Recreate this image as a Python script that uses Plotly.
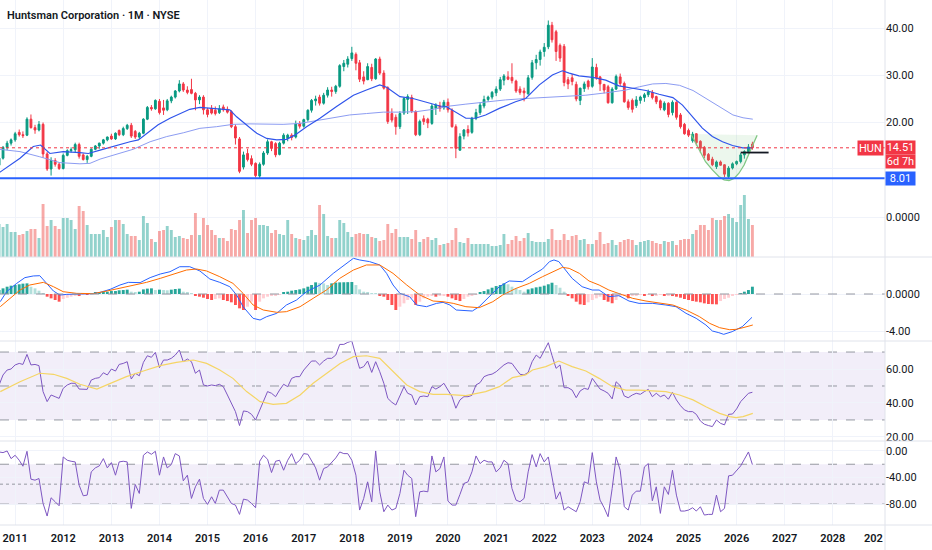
import pandas as pd
import plotly.graph_objects as go
from plotly.subplots import make_subplots

# monthly OHLC, Sep 2010 .. May 2026
opens = [10.8, 12.3, 14.6, 15.5, 16.2, 17.8, 17.3, 17.2, 20.6, 18.8, 18.3, 19.5, 13.2, 10.0, 11.8, 11.0,
         10.1, 12.9, 13.9, 14.1, 15.2, 13.0, 12.0, 12.7, 14.2, 14.9, 15.5, 16.2, 17.0, 16.4, 18.2, 17.3,
         18.6, 19.3, 18.0, 16.8, 17.6, 20.6, 23.1, 22.8, 24.4, 23.0, 22.6, 24.5, 25.3, 26.6, 28.1, 26.8,
         26.9, 26.1, 24.7, 25.3, 22.6, 22.9, 22.5, 22.0, 23.2, 22.7, 22.2, 19.0, 16.4, 10.4, 13.3, 12.2,
         11.2, 8.5, 11.0, 13.4, 15.8, 15.4, 13.1, 15.5, 16.5, 17.2, 16.8, 19.7, 19.1, 20.5, 22.5, 24.5,
         25.3, 24.0, 25.7, 26.8, 26.5, 27.6, 31.8, 32.3, 33.5, 34.4, 32.6, 29.6, 29.0, 31.6, 29.2, 33.4,
         30.4, 27.3, 21.8, 21.0, 19.0, 21.9, 24.8, 25.2, 22.2, 17.3, 20.7, 20.6, 19.7, 22.9, 23.4, 23.0,
         24.2, 22.5, 19.0, 14.0, 17.0,
         18.4, 17.8, 20.8, 22.0, 23.4, 24.8, 25.3, 26.2, 27.0, 28.9, 29.6, 29.5, 28.7, 27.0, 26.6, 26.0,
         29.5, 32.6, 33.3, 35.0, 36.0, 40.6, 39.2, 36.3, 36.1, 29.0, 29.4, 28.0, 24.6, 27.1, 28.7, 27.6,
         31.6, 29.6, 28.0, 27.5, 24.1, 27.0, 29.6, 28.2, 24.3, 24.6, 23.5, 24.6, 25.2, 25.8, 26.3, 25.4,
         24.5, 22.6, 24.0, 22.0, 24.2, 21.5, 19.5, 18.2, 16.0, 17.5, 15.9, 14.6, 13.1, 12.1, 10.5, 11.5,
         10.9, 8.4, 10.2, 11.1, 11.6, 13.0, 13.7, 15.3]
highs = [12.8, 14.9, 16.0, 16.5, 17.9, 18.4, 18.0, 21.0, 21.6, 19.4, 20.2, 19.9, 13.6, 12.5, 12.3, 11.4,
         13.3, 14.2, 14.6, 15.6, 15.6, 13.3, 13.0, 14.4, 15.1, 15.6, 16.4, 16.9, 17.5, 17.8, 18.4, 19.0,
         19.6, 19.8, 18.3, 17.9, 20.8, 23.4, 23.6, 24.8, 24.9, 24.7, 24.9, 25.6, 26.8, 28.9, 28.5, 27.6,
         29.2, 26.4, 25.7, 25.7, 23.0, 23.6, 23.3, 23.6, 23.7, 23.3, 22.5, 19.5, 16.8, 13.7, 14.3, 12.9,
         11.4, 11.4, 13.8, 16.3, 16.0, 15.7, 15.8, 17.6, 17.5, 17.6, 20.3, 20.2, 20.7, 22.7, 24.9, 25.6,
         25.8, 26.2, 27.4, 27.5, 27.9, 32.3, 33.2, 34.0, 36.0, 34.8, 33.2, 30.8, 32.5, 32.4, 33.6, 33.9,
         31.0, 27.6, 22.9, 21.6, 22.3, 25.3, 25.9, 25.8, 22.5, 20.5, 21.4, 20.9, 23.8, 24.0, 24.3, 24.7,
         25.0, 22.9, 19.5, 17.6, 18.5,
         19.3, 21.1, 22.8, 24.2, 25.6, 25.6, 26.6, 27.6, 29.6, 30.2, 30.8, 32.5, 29.0, 27.6, 27.3, 30.0,
         33.2, 34.3, 35.4, 36.8, 41.6, 41.3, 39.6, 36.7, 36.6, 29.6, 30.2, 28.6, 27.3, 28.6, 29.0, 33.6,
         32.4, 29.8, 28.1, 27.9, 27.4, 30.1, 30.3, 28.6, 24.8, 25.0, 25.5, 25.6, 26.2, 26.9, 26.8, 25.6,
         24.8, 24.4, 24.2, 24.6, 24.4, 21.9, 19.8, 18.6, 17.9, 17.6, 16.1, 14.9, 13.4, 12.6, 11.8, 11.8,
         11.0, 10.6, 11.4, 11.8, 13.4, 14.0, 15.3, 15.8]
lows = [10.3, 12.0, 14.0, 15.0, 15.8, 16.9, 16.6, 17.0, 18.6, 17.5, 18.0, 12.4, 9.6, 8.6, 10.5, 9.8,
        9.9, 12.7, 13.5, 13.6, 12.2, 11.8, 11.3, 12.5, 14.0, 14.3, 15.2, 15.9, 16.2, 16.2, 17.0, 17.0,
        18.3, 16.6, 16.4, 16.4, 17.4, 20.4, 22.4, 22.6, 21.6, 21.5, 22.3, 24.0, 25.0, 26.3, 26.4, 25.9,
        25.9, 22.5, 23.8, 21.6, 21.0, 21.6, 21.4, 21.7, 22.2, 21.8, 18.7, 15.2, 9.1, 9.9, 11.6, 10.6,
        8.2, 7.9, 10.7, 13.0, 13.8, 12.5, 12.9, 15.2, 15.9, 16.1, 16.5, 18.6, 18.8, 20.1, 22.0, 23.5,
        23.5, 23.7, 25.2, 25.4, 26.0, 27.3, 30.8, 31.6, 33.0, 31.0, 28.5, 28.0, 28.9, 28.7, 29.0, 30.0,
        26.9, 19.6, 19.9, 17.3, 18.5, 21.5, 21.7, 21.9, 17.0, 17.0, 19.4, 18.7, 19.4, 21.5, 22.2, 22.6,
        22.0, 18.8, 12.3, 13.9, 16.3,
        16.9, 17.5, 20.4, 21.5, 22.9, 24.3, 24.8, 25.5, 26.6, 27.8, 28.9, 28.2, 26.2, 25.8, 24.4, 25.8,
        29.0, 31.2, 32.0, 33.9, 35.5, 36.9, 33.0, 32.8, 27.6, 27.0, 27.8, 24.4, 23.6, 26.4, 26.9, 27.3,
        29.0, 26.6, 26.1, 23.9, 23.9, 26.8, 27.6, 24.1, 22.6, 22.0, 23.0, 23.9, 24.3, 25.3, 24.8, 23.8,
        22.5, 22.3, 21.0, 21.4, 20.5, 18.6, 17.3, 16.8, 15.6, 15.0, 13.4, 12.3, 11.7, 10.6, 10.0, 10.7,
        8.3, 8.01, 9.9, 10.8, 11.2, 12.2, 13.3, 14.1]
closes = [12.3, 14.6, 15.5, 16.2, 17.5, 17.3, 17.1, 20.6, 18.8, 18.3, 19.5, 13.2, 10.0, 11.8, 11.0, 10.1,
          12.9, 13.9, 14.1, 15.2, 12.7, 12.0, 12.7, 14.2, 14.9, 15.5, 16.2, 16.8, 16.4, 17.6, 17.3, 18.6,
          19.3, 17.0, 16.8, 17.6, 20.6, 23.1, 22.8, 24.6, 22.0, 22.5, 24.5, 25.3, 26.6, 28.1, 26.8, 26.3,
          26.1, 24.7, 25.3, 22.6, 21.6, 21.9, 21.8, 22.8, 22.6, 22.1, 19.0, 16.6, 9.5, 13.0, 12.0, 11.0,
          8.6, 11.0, 13.4, 15.8, 14.4, 13.0, 15.5, 17.2, 17.2, 16.7, 19.6, 19.1, 20.5, 22.5, 24.6, 24.9,
          24.0, 25.7, 26.8, 26.5, 27.6, 32.0, 32.5, 33.4, 34.7, 32.5, 29.1, 28.7, 31.8, 29.2, 33.4, 30.4,
          27.2, 20.1, 20.4, 19.0, 21.8, 25.0, 25.4, 22.3, 17.3, 20.1, 20.1, 19.8, 23.4, 23.6, 22.9, 24.2,
          22.6, 19.0, 14.4, 16.9, 18.3,
          17.7, 20.8, 22.0, 23.6, 24.8, 25.3, 26.3, 27.0, 29.0, 29.8, 29.1, 28.8, 26.6, 26.3, 26.2, 29.4,
          32.6, 33.3, 34.9, 35.9, 40.6, 37.5, 35.0, 33.6, 28.4, 28.1, 28.6, 24.9, 27.2, 28.1, 27.5, 31.7,
          29.4, 28.1, 26.8, 24.1, 27.0, 29.7, 28.2, 24.3, 23.1, 22.7, 24.7, 25.3, 25.8, 26.4, 25.2, 24.3,
          23.0, 24.0, 21.6, 24.2, 21.0, 19.0, 17.5, 17.2, 17.4, 15.6, 14.4, 12.9, 11.9, 10.9, 11.5, 10.8,
          8.9, 10.2, 11.1, 11.6, 13.0, 13.7, 14.7, 14.51]

volume = [33, 30, 33, 25, 25, 22, 23, 26, 28, 28, 19, 53, 31, 37, 31, 28, 39, 39, 37, 28,
          51, 46, 32, 23, 23, 23, 27, 20, 30, 37, 37, 33, 23, 21, 21, 17, 41, 34, 18, 15,
          26, 27, 31, 27, 20, 21, 19, 18, 22, 44, 22, 39, 32, 27, 22, 19, 19, 16, 28, 27,
          37, 47, 24, 37, 39, 32, 32, 31, 24, 27, 23, 22, 37, 23, 19, 18, 17, 21, 27, 22,
          52, 43, 21, 19, 19, 37, 34, 25, 20, 23, 24, 23, 23, 20, 19, 16, 17, 33, 24, 28,
          20, 20, 20, 18, 27, 15, 18, 20, 17, 19, 12, 13, 14, 17, 29, 15, 14,
          19, 13, 13, 13, 13, 13, 11, 11, 12, 23, 13, 17, 21, 16, 19, 24, 16, 15, 15, 15,
          18, 28, 17, 17, 23, 17, 21, 22, 17, 18, 13, 13, 17, 25, 13, 14, 17, 12, 15, 17,
          18, 17, 12, 15, 16, 17, 16, 14, 13, 16, 15, 16, 12, 17, 18, 18, 23, 27, 32, 32,
          27, 39, 37, 37, 41, 43, 39, 35, 52, 62, 38, 32]

macd_hist = [0.43, 0.61, 0.79, 0.9, 0.97, 1.05, 1.12, 1.15, 0.79, 0.61, 0.36, 0.05, -0.29, -0.47, -0.65, -0.83,
             -0.54, -0.4, -0.29, -0.11, -0.22, -0.04, -0.05, 0.07, 0.14, 0.18, 0.22, 0.25, 0.32, 0.32, 0.4, 0.43,
             0.47, 0.25, 0.14, 0.25, 0.5, 0.58, 0.61, 0.43, 0.47, 0.43, 0.4, 0.47, 0.54, 0.58, 0.25, 0.14,
             0.04, -0.11, -0.29, -0.4, -0.54, -0.65, -0.54, -0.47, -0.65, -0.76, -0.9, -1.19, -1.55, -1.73, -1.37, -0.83,
             -1.73, -0.83, -0.47, -0.29, -0.18, -0.11, -0.04, 0.18, 0.25, 0.36, 0.43, 0.5, 0.61, 0.79, 0.97, 1.26,
             1.2, 1.15, 0.97, 1.15, 1.23, 1.26, 1.27, 1.28, 1.3, 0.97, 0.5, 0.25, 0.11, 0.02, 0.01, -0.11,
             -0.29, -0.65, -1.19, -1.73, -1.37, -1.01, -0.65, -0.47, -1.19, -0.83, -0.47, -0.29, -0.11, -0.29, -0.18, -0.11,
             -0.29, -0.47, -0.65, -0.76, -0.54,
             -0.29, -0.18, -0.04, 0.14, 0.32, 0.5, 0.68, 0.86, 0.97, 1.15, 1.05, 0.79, 0.61, 0.43, 0.25, 0.5,
             0.61, 0.72, 0.79, 0.9, 1.05, 1.22, 0.97, 0.68, 0.25, -0.11, -0.47, -0.83, -1.12, -1.19, -0.9, -0.65,
             -0.47, -0.29, -0.65, -0.83, -1.0, -0.65, -0.29, -0.11, -0.47, -0.18, -0.11, -0.04, -0.11, -0.04, -0.22, -0.11,
             -0.04, -0.18, -0.11, -0.22, -0.29, -0.4, -0.54, -0.65, -0.76, -0.83, -0.9, -1.01, -1.08, -1.1, -1.12, -0.76,
             -0.54, -0.4, -0.18, -0.07, 0.07, 0.25, 0.43, 0.79]

rsi = [50.6, 56.5, 59.4, 60, 62.4, 63.3, 62.7, 68.6, 62.4, 62.7, 62, 46.7, 40.8, 44.7, 43.7, 42.7,
       48.6, 50.6, 51.6, 51.6, 48.2, 48.2, 48, 53.5, 54.5, 54.9, 57.8, 56.5, 60, 58.8, 62.7, 63.3,
       64.3, 54.1, 57.5, 56, 63.9, 67.8, 66.9, 69.8, 60.8, 65.3, 65.3, 66.3, 68.2, 71.2, 64.3, 65.9,
       64.3, 57.5, 59.4, 50.6, 50, 50.6, 50.2, 51, 49.6, 44.7, 39.8, 34.9, 26.7, 35.3, 34.9, 33.3,
       30, 35.9, 41.8, 46.7, 45.7, 43.7, 47.6, 51, 49.6, 54.5, 55.5, 55.5, 59.4, 62, 64.7, 64.7,
       62.4, 64.7, 66.3, 66.3, 68.2, 74.5, 74.5, 75.7, 76.5, 67.8, 60.4, 61.4, 64.7, 58, 64.3, 58.4,
       51.6, 42.7, 40.4, 38.8, 43.7, 49.6, 45.7, 44.7, 38.8, 43.7, 44.1, 43.7, 49.6, 48.2, 49.6, 51.6,
       47.6, 43.7, 36.9, 41.8, 43.7,
       43.7, 44.5, 50.6, 52, 55.5, 56.5, 57, 58.4, 60.4, 62.4, 63.7, 63.3, 60, 56.9, 56.5, 58,
       64.3, 68.2, 66.3, 71.2, 75.5, 68, 60.4, 62.4, 49, 49, 47.6, 43.1, 47.1, 48.6, 48, 54.5,
       51, 48.2, 47.1, 45.7, 42.4, 52.5, 50.2, 44.1, 43.1, 44.7, 45.7, 45.1, 46.7, 48, 43.7, 45.7,
       43.7, 44.7, 42.2, 46.3, 41.8, 38.4, 35.9, 34.9, 34.9, 33.3, 29.4, 27.5, 26.7, 26.1, 30, 28,
       27.1, 33.3, 33.5, 36.5, 40.8, 43.1, 45.7, 46.3]

williams_r = [-1.5, -2.5, 0, -11.5, -6.5, -14, -23, -0.5, -42.5, -44, -41.5, -79, -98, -70.5, -76.5, -82.5,
              -9, -14, -15.5, -16.5, -51.5, -67.5, -66.5, -31.5, -25.5, -22.5, -11.5, -25.5, -17.5, -36.5, -16.5, -15.5,
              -16.5, -86.5, -50.5, -64, -6.5, -1.5, -5, -0.5, -36.5, -9, -25.5, -20.5, -4, -7.5, -45, -36.5,
              -71.5, -54, -42.5, -71.5, -80.5, -69, -79, -59, -59, -69, -79, -81.5, -95.5, -72.5, -74, -79,
              -85.5, -15.5, -6.5, -12.5, -32.5, -15.5, -14, -29, -14, -4, -19, -14, -4, -5, -14, -25.5,
              -44, -26.5, -24, -18, -10.5, -1.5, -4, -4, -14, -36.5, -89, -71.5, -46.5, -76.5, 0, -61.5,
              -91.5, -81.5, -89, -86.5, -64, -29, -36.5, -41.5, -99, -61.5, -60.5, -61.5, -7.5, -31.5, -26.5, -9,
              -75.5, -81.5, -81.5, -65.5, -49,
              -46.5, -31.5, -7.5, -19, -14, -16.5, -16.5, -31.5, -25.5, -14, -19, -56.5, -74, -76.5, -71.5, -31.5,
              -5.5, -24, -4, -16.5, -9, -36.5, -72.5, -61.5, -89, -84, -87.5, -91.5, -76.5, -46.5, -49, -2.5,
              -46.5, -74, -85.5, -99, -56.5, -9, -29, -84, -89, -66.5, -60.5, -60.5, -24, -19, -75, -54,
              -94, -54, -65.5, -29, -66.5, -90.5, -90.5, -89, -85.5, -90.5, -84, -96.5, -95.5, -95.5, -66.5, -91.5,
              -86.5, -37.5, -36.5, -29, -22.5, -12.5, -1.5, -20.5]

# moving averages on price (sparse points)
ma_fast_dates = ['2010-09-01', '2011-02-07', '2011-05-19', '2011-07-13', '2011-09-22', '2012-01-01',
                 '2012-05-07', '2012-07-10', '2012-10-07', '2013-02-12', '2013-05-22', '2013-07-25',
                 '2013-09-25', '2013-12-22', '2014-03-22', '2014-06-04', '2014-08-19', '2014-11-04',
                 '2015-03-10', '2015-06-19', '2015-08-10', '2015-10-25', '2016-01-10', '2016-03-25',
                 '2016-06-10', '2016-08-22', '2016-10-25', '2017-01-22', '2017-05-04', '2017-09-07',
                 '2018-01-13', '2018-04-22', '2018-08-01', '2018-09-22', '2019-01-01', '2019-04-10',
                 '2019-08-16', '2019-11-01', '2019-12-19', '2020-04-01', '2020-05-16', '2020-07-28',
                 '2020-10-13', '2021-01-25', '2021-05-28', '2021-08-13', '2021-11-25', '2022-03-04',
                 '2022-05-19', '2022-07-10', '2022-09-22', '2023-01-04', '2023-04-13', '2023-07-22',
                 '2023-11-04', '2024-02-13', '2024-05-22', '2024-09-04', '2024-11-16', '2025-02-01',
                 '2025-04-16', '2025-07-01', '2025-09-16', '2025-12-01', '2026-02-16', '2026-04-19',
                 '2026-05-01']
ma_fast = [9.2, 12.3, 14.8, 15.1, 13.3, 13.7, 13.5, 13.3, 14.0, 15.1, 15.8, 16.2, 17.6, 19.4, 20.8, 21.8,
           22.7, 23.1, 22.9, 22.6, 21.1, 19.4, 17.6, 16.5, 16.2, 16.3, 17.2, 19.0, 20.8, 23.3, 25.7, 26.8,
           27.9, 27.4, 25.4, 25.0, 24.0, 23.4, 23.3, 21.5, 20.8, 20.8, 21.5, 22.9, 24.3, 25.0, 27.9, 30.0,
           30.9, 30.4, 29.8, 29.5, 28.9, 27.7, 27.2, 26.7, 25.9, 25.2, 23.6, 21.1, 18.7, 16.9, 15.8, 15.0,
           14.5, 14.5, 14.6]

ma_slow_dates = ['2010-09-01', '2011-02-07', '2011-07-07', '2011-12-07', '2012-05-07', '2012-07-22',
                 '2012-10-07', '2013-02-12', '2013-06-16', '2013-10-22', '2014-02-25', '2014-07-01',
                 '2014-11-04', '2015-03-10', '2015-07-13', '2015-11-19', '2016-03-25', '2016-07-28',
                 '2016-12-04', '2017-04-07', '2017-08-13', '2017-12-16', '2018-04-22', '2018-08-28',
                 '2019-01-01', '2019-05-07', '2019-09-10', '2020-01-16', '2020-05-16', '2020-10-13',
                 '2021-03-13', '2021-08-13', '2022-01-13', '2022-06-13', '2022-11-13', '2023-04-13',
                 '2023-09-13', '2023-12-25', '2024-04-04', '2024-07-13', '2024-10-25', '2025-02-04',
                 '2025-05-13', '2025-08-25', '2025-12-04', '2026-02-19', '2026-05-04']
ma_slow = [14.2, 13.7, 12.6, 11.35, 11.1, 11.2, 12.1, 13.2, 14.2, 15.8, 16.9, 17.7, 18.65, 19.0, 19.5, 19.6,
           19.6, 19.5, 19.7, 20.3, 20.8, 21.5, 21.8, 22.1, 22.1, 22.2, 22.7, 23.4, 23.8, 24.3, 24.7, 25.0,
           25.2, 25.4, 25.7, 26.2, 26.8, 27.5, 28.1, 28.2, 27.8, 26.7, 25.0, 23.1, 21.5, 20.9, 20.6]

macd_dates = ['2010-09-10', '2010-10-28', '2011-01-13', '2011-03-16', '2011-05-19', '2011-07-07', '2011-08-28',
              '2011-10-19', '2011-12-07', '2012-01-28', '2012-05-07', '2012-08-16', '2012-10-07', '2012-12-22',
              '2013-03-07', '2013-05-10', '2013-08-07', '2013-10-22', '2014-01-07', '2014-03-22', '2014-06-04',
              '2014-08-19', '2014-11-04', '2015-01-19', '2015-04-04', '2015-06-19', '2015-08-10', '2015-09-28',
              '2015-12-13', '2016-02-04', '2016-03-25', '2016-06-10', '2016-08-22', '2016-11-07', '2017-01-22',
              '2017-05-04', '2017-08-13', '2017-10-28', '2018-01-13', '2018-03-01', '2018-05-16', '2018-08-01',
              '2018-09-22', '2018-11-10', '2019-01-01', '2019-03-16', '2019-05-07', '2019-07-22', '2019-10-07',
              '2019-11-25', '2020-01-16', '2020-03-04', '2020-05-16', '2020-07-04', '2020-08-25', '2020-11-10',
              '2021-01-25', '2021-04-10', '2021-07-19', '2021-10-04', '2021-12-19', '2022-02-10', '2022-03-16',
              '2022-04-22', '2022-06-13', '2022-08-01', '2022-10-16', '2023-01-01', '2023-02-22', '2023-05-07',
              '2023-07-22', '2023-10-07', '2023-12-22', '2024-04-04', '2024-07-13', '2024-09-28', '2024-12-13',
              '2025-02-28', '2025-05-13', '2025-07-01', '2025-08-19', '2025-09-25', '2025-11-28', '2026-02-13',
              '2026-04-28']
macd_line = [-0.83, 0.25, 1.15, 1.77, 1.95, 1.98, 1.15, 0.32, -0.11, -0.04, 0.0, 0.04, 0.18, 0.5, 0.97, 1.26,
             1.23, 1.77, 2.16, 2.41, 2.95, 2.95, 2.49, 1.62, 1.26, 0.79, -0.11, -1.37, -2.63, -2.81, -2.45, -2.09,
             -1.19, -0.65, 0.25, 0.97, 2.23, 3.06, 3.86, 3.68, 3.5, 3.14, 2.23, 0.97, 0.07, -0.29, -1.19, -1.37,
             -1.01, -0.9, -1.19, -1.73, -1.84, -1.84, -1.37, -0.29, 0.79, 1.41, 1.33, 2.05, 2.7, 3.5, 3.68, 3.5,
             2.59, 1.69, 0.79, 0.43, 0.43, -0.29, -0.18, -0.76, -1.01, -1.01, -1.19, -1.37, -2.09, -2.63, -3.35,
             -4.0, -4.18, -4.36, -4.07, -3.53, -2.52]

signal_dates = ['2010-09-10', '2010-11-25', '2011-02-07', '2011-04-22', '2011-08-04', '2011-10-19', '2012-01-01',
                '2012-04-13', '2012-08-16', '2012-11-28', '2013-03-07', '2013-06-16', '2013-09-25', '2014-01-07',
                '2014-04-16', '2014-07-25', '2014-10-10', '2014-12-25', '2015-04-04', '2015-07-13', '2015-09-28',
                '2015-12-13', '2016-02-28', '2016-06-10', '2016-08-22', '2016-12-04', '2017-03-13', '2017-06-22',
                '2017-10-01', '2018-01-13', '2018-04-22', '2018-08-01', '2018-11-10', '2019-02-22', '2019-06-01',
                '2019-09-10', '2019-11-25', '2020-02-10', '2020-05-16', '2020-08-25', '2020-12-07', '2021-02-19',
                '2021-06-01', '2021-09-10', '2021-12-19', '2022-04-01', '2022-05-19', '2022-07-10', '2022-09-25',
                '2022-12-07', '2023-02-22', '2023-05-07', '2023-07-22', '2023-11-04', '2024-02-13', '2024-05-22',
                '2024-09-04', '2024-12-13', '2025-03-25', '2025-06-10', '2025-08-25', '2025-11-10', '2025-12-28',
                '2026-02-19', '2026-05-04']
signal_line = [-1.37, -0.47, 0.43, 0.97, 1.26, 0.79, 0.25, 0.07, 0.04, 0.32, 0.61, 0.97, 1.26, 1.69, 2.16,
               2.59, 2.7, 2.49, 1.87, 1.15, 0.07, -1.19, -1.73, -1.98, -1.91, -1.37, -0.47, 0.43, 1.69, 2.59,
               3.14, 3.14, 2.23, 0.97, -0.11, -0.76, -0.83, -1.01, -1.37, -1.48, -0.83, -0.11, 0.61, 1.15, 1.87,
               2.59, 2.88, 2.77, 2.23, 1.41, 0.97, 0.43, 0.04, -0.47, -0.76, -0.94, -1.19, -1.73, -2.45, -3.17,
               -3.64, -3.86, -3.82, -3.64, -3.35]

rsi_ma_dates = ['2010-09-10', '2011-02-07', '2011-07-07', '2011-10-19', '2012-01-28', '2012-05-07', '2012-09-13',
                '2012-12-22', '2013-04-25', '2013-09-01', '2014-01-07', '2014-05-10', '2014-09-16', '2014-12-25',
                '2015-04-04', '2015-07-13', '2015-10-25', '2016-02-04', '2016-05-13', '2016-08-22', '2016-12-04',
                '2017-03-13', '2017-06-22', '2017-10-04', '2018-01-13', '2018-04-22', '2018-08-01', '2018-11-10',
                '2019-02-22', '2019-06-01', '2019-09-10', '2019-12-22', '2020-04-01', '2020-05-16', '2020-10-13',
                '2021-01-25', '2021-05-04', '2021-08-13', '2021-10-04', '2022-01-13', '2022-04-22', '2022-08-01',
                '2022-11-13', '2023-02-22', '2023-06-04', '2023-09-13', '2023-12-22', '2024-04-04', '2024-07-13',
                '2024-10-25', '2025-02-04', '2025-05-13', '2025-08-25', '2025-11-10', '2025-12-28', '2026-02-19',
                '2026-05-04']
rsi_ma = [46.7, 52.5, 57.5, 56.9, 54.5, 51, 48.2, 51.6, 55.5, 58.8, 62, 63.9, 65.3, 63.3, 59.4, 54.5,
          46.7, 40.8, 39.2, 39.8, 44.7, 51.6, 57.5, 63.3, 67.3, 67.8, 66.3, 58.4, 50.6, 46.7, 45.1, 45.1,
          44.7, 44.3, 46.7, 49.6, 54.9, 56.5, 59.4, 61.4, 64.7, 61.4, 58.8, 54.5, 49.6, 47.6, 47.6, 47.1,
          46.7, 44.7, 41.8, 37.8, 33.9, 32, 31.4, 32, 33.9]

# rounded-bottom drawing and breakout line
cup_dates = ['2025-01-19', '2025-02-25', '2025-04-03', '2025-05-10', '2025-07-01', '2025-08-19', '2025-09-28',
             '2025-11-04', '2025-12-13', '2026-01-19', '2026-02-27', '2026-04-04', '2026-05-04', '2026-06-06']
cup_prices = [17.45, 15.5, 13.5, 11.55, 9.8, 8.4, 7.7, 7.55, 8.0, 9.1, 10.85, 13.0, 15.1, 17.2]
breakout_dates = ['2026-02-01', '2026-09-01']
breakout_prices = [13.5, 13.5]
support_level = 8.01

year_ticks = ['%d-01-01' % y for y in range(2011, 2029)]
year_labels = [str(y) for y in range(2011, 2029)]
months = pd.date_range('2010-09-01', periods=len(closes), freq='MS')

GREEN, RED = '#089981', '#f23645'
up = [c >= o for o, c in zip(opens, closes)]
vol_colors = ['rgba(38,166,154,0.5)' if u else 'rgba(239,83,80,0.5)' for u in up]


def hist_colors(vals):
    out, prev = [], 0
    for v in vals:
        if v >= 0:
            out.append('#26a69a' if v >= prev else '#b2dfdb')
        else:
            out.append('#ff5252' if v <= prev else '#ffcdd2')
        prev = v
    return out


bar_w = 22 * 24 * 3600 * 1000

fig = make_subplots(rows=5, cols=1, shared_xaxes=True, vertical_spacing=0,
                    row_heights=[190, 67, 84, 100, 84])

# price pane
fig.add_trace(go.Scatter(x=cup_dates, y=cup_prices, mode='lines', fill='toself',
                         fillcolor='rgba(129,199,132,0.15)', line=dict(color='#81c784', width=1.3)), 1, 1)
fig.add_trace(go.Candlestick(x=months, open=opens, high=highs, low=lows, close=closes,
                             increasing=dict(line=dict(color=GREEN, width=1), fillcolor=GREEN),
                             decreasing=dict(line=dict(color=RED, width=1), fillcolor=RED)), 1, 1)
fig.add_trace(go.Scatter(x=ma_slow_dates, y=ma_slow, mode='lines',
                         line=dict(color='#8c9cf2', width=1)), 1, 1)
fig.add_trace(go.Scatter(x=ma_fast_dates, y=ma_fast, mode='lines',
                         line=dict(color='#2f54eb', width=1.2)), 1, 1)
fig.add_trace(go.Scatter(x=breakout_dates, y=breakout_prices, mode='lines',
                         line=dict(color='#131722', width=1.8)), 1, 1)
fig.add_hline(y=closes[-1], line=dict(color=RED, width=1, dash='dot'), row=1, col=1)
fig.add_hline(y=support_level, line=dict(color='#2962ff', width=2), row=1, col=1)

# volume
fig.add_trace(go.Bar(x=months, y=volume, marker=dict(color=vol_colors, line_width=0), width=bar_w), 2, 1)

# MACD
fig.add_trace(go.Bar(x=months, y=macd_hist, marker=dict(color=hist_colors(macd_hist), line_width=0),
                     width=bar_w), 3, 1)
fig.add_hline(y=0, line=dict(color='#9598a1', width=1, dash='dash'), row=3, col=1)
fig.add_trace(go.Scatter(x=macd_dates, y=macd_line, mode='lines', line=dict(color='#2962ff', width=1)), 3, 1)
fig.add_trace(go.Scatter(x=signal_dates, y=signal_line, mode='lines', line=dict(color='#ff6d00', width=1)), 3, 1)

# RSI
fig.add_trace(go.Scatter(x=months, y=rsi, mode='lines', line=dict(color='#7e57c2', width=1)), 4, 1)
fig.add_trace(go.Scatter(x=rsi_ma_dates, y=rsi_ma, mode='lines', line=dict(color='#f5d565', width=1.2)), 4, 1)
fig.add_hrect(y0=30, y1=70, fillcolor='rgba(126,87,194,0.1)', line_width=0, layer='below', row=4, col=1)
for lvl in (70, 50, 30):
    fig.add_hline(y=lvl, line=dict(color='#9598a1', width=1, dash='dash'), layer='below', row=4, col=1)

# Williams %R
fig.add_trace(go.Scatter(x=months, y=williams_r, mode='lines', line=dict(color='#7e57c2', width=1)), 5, 1)
fig.add_hrect(y0=-80, y1=-20, fillcolor='rgba(126,87,194,0.1)', line_width=0, layer='below', row=5, col=1)
fig.add_hline(y=-20, line=dict(color='#9598a1', width=1, dash='dash'), layer='below', row=5, col=1)
fig.add_hline(y=-80, line=dict(color='#9598a1', width=1, dash='dash'), layer='below', row=5, col=1)
fig.add_hline(y=-50, line=dict(color='#9598a1', width=1, dash='dot'), layer='below', row=5, col=1)

fig.update_layout(
    width=932, height=550, margin=dict(l=0, r=47, t=0, b=25),
    paper_bgcolor='white', plot_bgcolor='white', showlegend=False, hovermode=False,
    font=dict(family='Roboto', size=11, color='#131722'),
    xaxis_rangeslider_visible=False,
)
fig.update_xaxes(range=['2010-09-08', '2029-02-01'], tickvals=year_ticks, ticktext=year_labels,
                 showgrid=True, gridcolor='#f0f3fa', zeroline=False, showline=False, ticks='',
                 showticklabels=False)
fig.update_xaxes(showticklabels=True, tickfont=dict(size=11, weight=600), ticklabelstandoff=5,
                 row=5, col=1)
fig.update_yaxes(side='right', showgrid=True, gridcolor='#f0f3fa', zeroline=False, showline=False,
                 ticks='', tickfont=dict(size=11))
# the 10.00 price label sits under the last-price and level tags, so only its gridline shows
fig.update_yaxes(range=[5.53, 45.96], tickvals=[10, 20, 30, 40],
                 ticktext=['', '20.00', '30.00', '40.00'], row=1, col=1)
fig.update_yaxes(range=[0, 67], tickvals=[40], ticktext=['0.0000'], row=2, col=1)
fig.update_yaxes(range=[-5.08, 4.0], tickvals=[0, -4], ticktext=['0.0000', '-4.00'], row=3, col=1)
fig.update_yaxes(range=[17.6, 76.5], tickvals=[20, 40, 60], ticktext=['20.00', '40.00', '60.00'], row=4, col=1)
fig.update_yaxes(range=[-111.5, 15], tickvals=[0, -40, -80], ticktext=['0.00', '-40.00', '-80.00'], row=5, col=1)

# pane separators and price-scale border
for py in (257, 341, 441, 525):
    fig.add_shape(type='line', xref='paper', yref='paper', x0=0, x1=932 / 885,
                  y0=1 - py / 525, y1=1 - py / 525, line=dict(color='#e0e3eb', width=1))
fig.add_shape(type='line', xref='paper', yref='paper', x0=1, x1=1, y0=-25 / 525, y1=1,
              line=dict(color='#e0e3eb', width=1))

fig.add_annotation(xref='paper', yref='paper', x=5 / 885, y=1 - 15 / 525, xanchor='left', yanchor='middle',
                   text='Huntsman Corporation · 1M · NYSE', showarrow=False,
                   font=dict(size=11, color='#131722', weight=600))
fig.add_annotation(xref='paper', yref='y', x=1, xshift=-1, y=closes[-1], xanchor='right', yanchor='middle',
                   text='HUN', showarrow=False, bgcolor=RED, borderpad=1, height=12,
                   font=dict(size=11, color='white'))
fig.add_annotation(xref='paper', yref='y', x=1, y=closes[-1], xanchor='left', yanchor='middle',
                   text='%.2f' % closes[-1], showarrow=False, bgcolor=RED, borderpad=1, width=27, height=11,
                   font=dict(size=11, color='white'))
fig.add_annotation(xref='paper', yref='y', x=1, y=closes[-1], yshift=-6.5, xanchor='left', yanchor='top',
                   text='6d 7h', showarrow=False, bgcolor=RED, borderpad=1, width=27, height=11,
                   font=dict(size=11, color='white'))
fig.add_annotation(xref='paper', yref='y', x=1, y=support_level, xanchor='left', yanchor='middle',
                   text='%.2f' % support_level, showarrow=False, bgcolor='#2962ff', borderpad=1, width=27,
                   height=11, font=dict(size=11, color='white'))
fig.add_annotation(xref='paper', yref='paper', x=1, y=-13 / 525, xanchor='right', yanchor='middle',
                   text='202', showarrow=False, font=dict(size=11, weight=600))

fig.write_html("out.html", config={'displayModeBar': False},
               post_script="document.body.style.margin='0';")
